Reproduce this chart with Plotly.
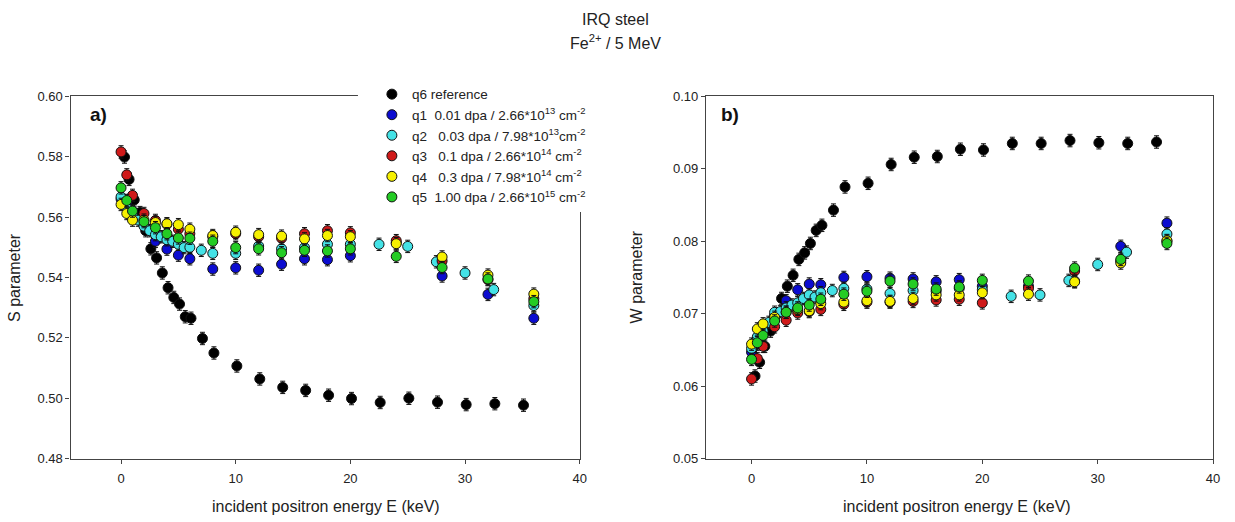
import plotly.graph_objects as go

# ---------------- data ----------------
E_q6 = [0.3, 0.7, 1.15, 1.65, 2.15, 2.6, 3.1, 3.6, 4.1, 4.6, 5.1, 5.6, 6.1, 7.1, 8.1,
        10.1, 12.1, 14.1, 16.1, 18.1, 20.1, 22.6, 25.1, 27.6, 30.1, 32.6, 35.1]
E_main = [0, 0.5, 1, 2, 3, 4, 5, 6, 8, 10, 12, 14, 16, 18, 20, 24, 28, 32, 36]
E_q2 = [0, 0.5, 1, 1.5, 2, 2.5, 3, 3.5, 4, 4.5, 5, 5.5, 6, 7, 8, 10, 12, 14, 16, 18, 20,
        22.5, 25, 27.5, 30, 32.5, 36]

S_q6 = [0.5799, 0.5725, 0.5657, 0.5615, 0.5555, 0.5495, 0.5465, 0.5415, 0.5366, 0.5334,
        0.5312, 0.5270, 0.5265, 0.5198, 0.5150, 0.5107, 0.5064, 0.5036, 0.5026, 0.5010,
        0.4999, 0.4986, 0.5000, 0.4987, 0.4979, 0.4982, 0.4977]
S_q1 = [0.5660, 0.5645, 0.5620, 0.5575, 0.5520, 0.5494, 0.5474, 0.5462, 0.5428, 0.5432,
        0.5424, 0.5444, 0.5462, 0.5459, 0.5472, 0.5515, 0.5405, 0.5344, 0.5265]
S_q2 = [0.5667, 0.5630, 0.5605, 0.5590, 0.5570, 0.5555, 0.5542, 0.5535, 0.5525, 0.5520,
        0.5510, 0.5499, 0.5500, 0.5490, 0.5480, 0.5480, 0.5504, 0.5495, 0.5499, 0.5510,
        0.5510, 0.5510, 0.5503, 0.5452, 0.5415, 0.5360, 0.5307]
S_q3 = [0.5816, 0.5740, 0.5672, 0.5612, 0.5589, 0.5576, 0.5560, 0.5545, 0.5535, 0.5545,
        0.5535, 0.5530, 0.5545, 0.5555, 0.5548, 0.5522, 0.5455, 0.5393, 0.5330]
S_q4 = [0.5642, 0.5612, 0.5590, 0.5590, 0.5582, 0.5578, 0.5575, 0.5560, 0.5539, 0.5550,
        0.5542, 0.5537, 0.5528, 0.5539, 0.5535, 0.5512, 0.5468, 0.5408, 0.5345]
S_q5 = [0.5697, 0.5655, 0.5620, 0.5585, 0.5565, 0.5545, 0.5531, 0.5530, 0.5520, 0.5499,
        0.5495, 0.5482, 0.5490, 0.5488, 0.5495, 0.5470, 0.5433, 0.5395, 0.5320]

W_q6 = [0.0614, 0.0633, 0.0655, 0.0676, 0.0700, 0.0721, 0.0738, 0.0753, 0.0775, 0.0784,
        0.0797, 0.0815, 0.0822, 0.0843, 0.0875, 0.0880, 0.0906, 0.0916, 0.0917, 0.0927,
        0.0926, 0.0935, 0.0935, 0.0939, 0.0936, 0.0935, 0.0937]
W_q1 = [0.0647, 0.0658, 0.0671, 0.0698, 0.0718, 0.0733, 0.0741, 0.0740, 0.0750, 0.0751,
        0.0749, 0.0748, 0.0744, 0.0747, 0.0738, 0.0738, 0.0745, 0.0793, 0.0825]
W_q2 = [0.0652, 0.0668, 0.0676, 0.0688, 0.0702, 0.0703, 0.0708, 0.0712, 0.0715, 0.0721,
        0.0726, 0.0723, 0.0729, 0.0732, 0.0735, 0.0734, 0.0728, 0.0732, 0.0731, 0.0735,
        0.0733, 0.0724, 0.0726, 0.0746, 0.0768, 0.0785, 0.0810]
W_q3 = [0.0610, 0.0638, 0.0655, 0.0682, 0.0691, 0.0701, 0.0703, 0.0706, 0.0713, 0.0716,
        0.0716, 0.0717, 0.0719, 0.0720, 0.0715, 0.0735, 0.0759, 0.0773, 0.0800]
W_q4 = [0.0658, 0.0679, 0.0686, 0.0695, 0.0702, 0.0706, 0.0704, 0.0714, 0.0716, 0.0718,
        0.0717, 0.0721, 0.0726, 0.0726, 0.0729, 0.0727, 0.0744, 0.0770, 0.0801]
W_q5 = [0.0637, 0.0660, 0.0670, 0.0690, 0.0702, 0.0708, 0.0712, 0.0720, 0.0727, 0.0731,
        0.0745, 0.0741, 0.0734, 0.0737, 0.0746, 0.0745, 0.0763, 0.0775, 0.0797]

NB = "\u00a0"
labels = [
    "q6 reference",
    "q1" + NB * 2 + "0.01 dpa / 2.66*10<sup>13</sup> cm<sup>-2</sup>",
    "q2" + NB * 3 + "0.03 dpa / 7.98*10<sup>13</sup>cm<sup>-2</sup>",
    "q3" + NB * 3 + "0.1 dpa / 2.66*10<sup>14</sup> cm<sup>-2</sup>",
    "q4" + NB * 3 + "0.3 dpa / 7.98*10<sup>14</sup> cm<sup>-2</sup>",
    "q5" + NB * 2 + "1.00 dpa / 2.66*10<sup>15</sup> cm<sup>-2</sup>",
]
colors = ["#000000", "#0c0cd0", "#44e2e6", "#d01a1a", "#f6f000", "#24cc24"]
energies = [E_q6, E_main, E_q2, E_main, E_main, E_main]
S_all = [S_q6, S_q1, S_q2, S_q3, S_q4, S_q5]
W_all = [W_q6, W_q1, W_q2, W_q3, W_q4, W_q5]

FONT = "Liberation Sans, Arial, sans-serif"
W_PX, H_PX = 1235, 522

fig = go.Figure()
for lab, col, ex, s, w in zip(labels, colors, energies, S_all, W_all):
    marker = dict(color=col, size=10, line=dict(color="#111111", width=1))
    fig.add_trace(go.Scatter(
        x=ex, y=s, mode="markers", name=lab, marker=marker,
        error_y=dict(type="constant", value=0.00205, color="#111111", thickness=1, width=2.5),
        xaxis="x", yaxis="y", showlegend=True))
    fig.add_trace(go.Scatter(
        x=ex, y=w, mode="markers", name=lab, marker=marker,
        error_y=dict(type="constant", value=0.00086, color="#111111", thickness=1, width=2.5),
        xaxis="x2", yaxis="y2", showlegend=False))


def px_x(p):
    return p / W_PX


def px_y(p):
    return 1 - p / H_PX


axis_common = dict(showline=True, linecolor="#444444", linewidth=1.3, mirror=True,
                   ticks="outside", ticklen=4, tickcolor="#444444", showgrid=False,
                   zeroline=False, tickfont=dict(family=FONT, size=13, color="#222222"))


def note(text, x, y, size, angle=0, color="#222222"):
    return dict(text=text, x=px_x(x), y=px_y(y), xref="paper", yref="paper",
                xanchor="center", yanchor="middle", textangle=angle, showarrow=False,
                font=dict(family=FONT, size=size, color=color))


TOP, BOT = 92, 465

fig.update_layout(
    width=W_PX, height=H_PX,
    margin=dict(l=0, r=0, t=0, b=0),
    paper_bgcolor="white", plot_bgcolor="white",
    font=dict(family=FONT, color="#222222"),
    xaxis=dict(domain=[px_x(71), px_x(583)], range=[-4.4, 40], tickvals=[0, 10, 20, 30, 40],
               anchor="y", ticklabelstandoff=4, **axis_common),
    yaxis=dict(domain=[px_y(BOT), px_y(TOP)], range=[0.48, 0.60], dtick=0.02,
               tickformat=".2f", anchor="x", **axis_common),
    xaxis2=dict(domain=[px_x(710), px_x(1220)], range=[-3.95, 40], tickvals=[0, 10, 20, 30, 40],
                anchor="y2", ticklabelstandoff=4, **axis_common),
    yaxis2=dict(domain=[px_y(BOT), px_y(TOP)], range=[0.05, 0.10], dtick=0.01,
                tickformat=".2f", anchor="x2", **axis_common),
    legend=dict(x=px_x(374), y=px_y(74), xanchor="left", yanchor="top",
                bgcolor="rgba(0,0,0,0)", borderwidth=0, tracegroupgap=0,
                font=dict(family=FONT, size=13.5, color="#222222")),
    shapes=[dict(type="rect", xref="paper", yref="paper", layer="above",
                 x0=px_x(360), x1=px_x(600), y0=px_y(211), y1=px_y(80),
                 fillcolor="white", line=dict(width=0))],
    annotations=[
        note("IRQ steel", 619, 13, 16),
        note("Fe<sup>2+</sup> / 5 MeV", 619, 36, 16),
        note("<b>a)</b>", 99, 111, 19, color="#111111"),
        note("<b>b)</b>", 734, 111, 19, color="#111111"),
        note("S parameter", 14, 278, 16, angle=-90),
        note("W parameter", 640, 278, 16, angle=-90),
        note("incident positron energy E (keV)", 328, 514, 16),
        note("incident positron energy E (keV)", 962, 514, 16),
    ],
)

fig.write_html("out.html")
